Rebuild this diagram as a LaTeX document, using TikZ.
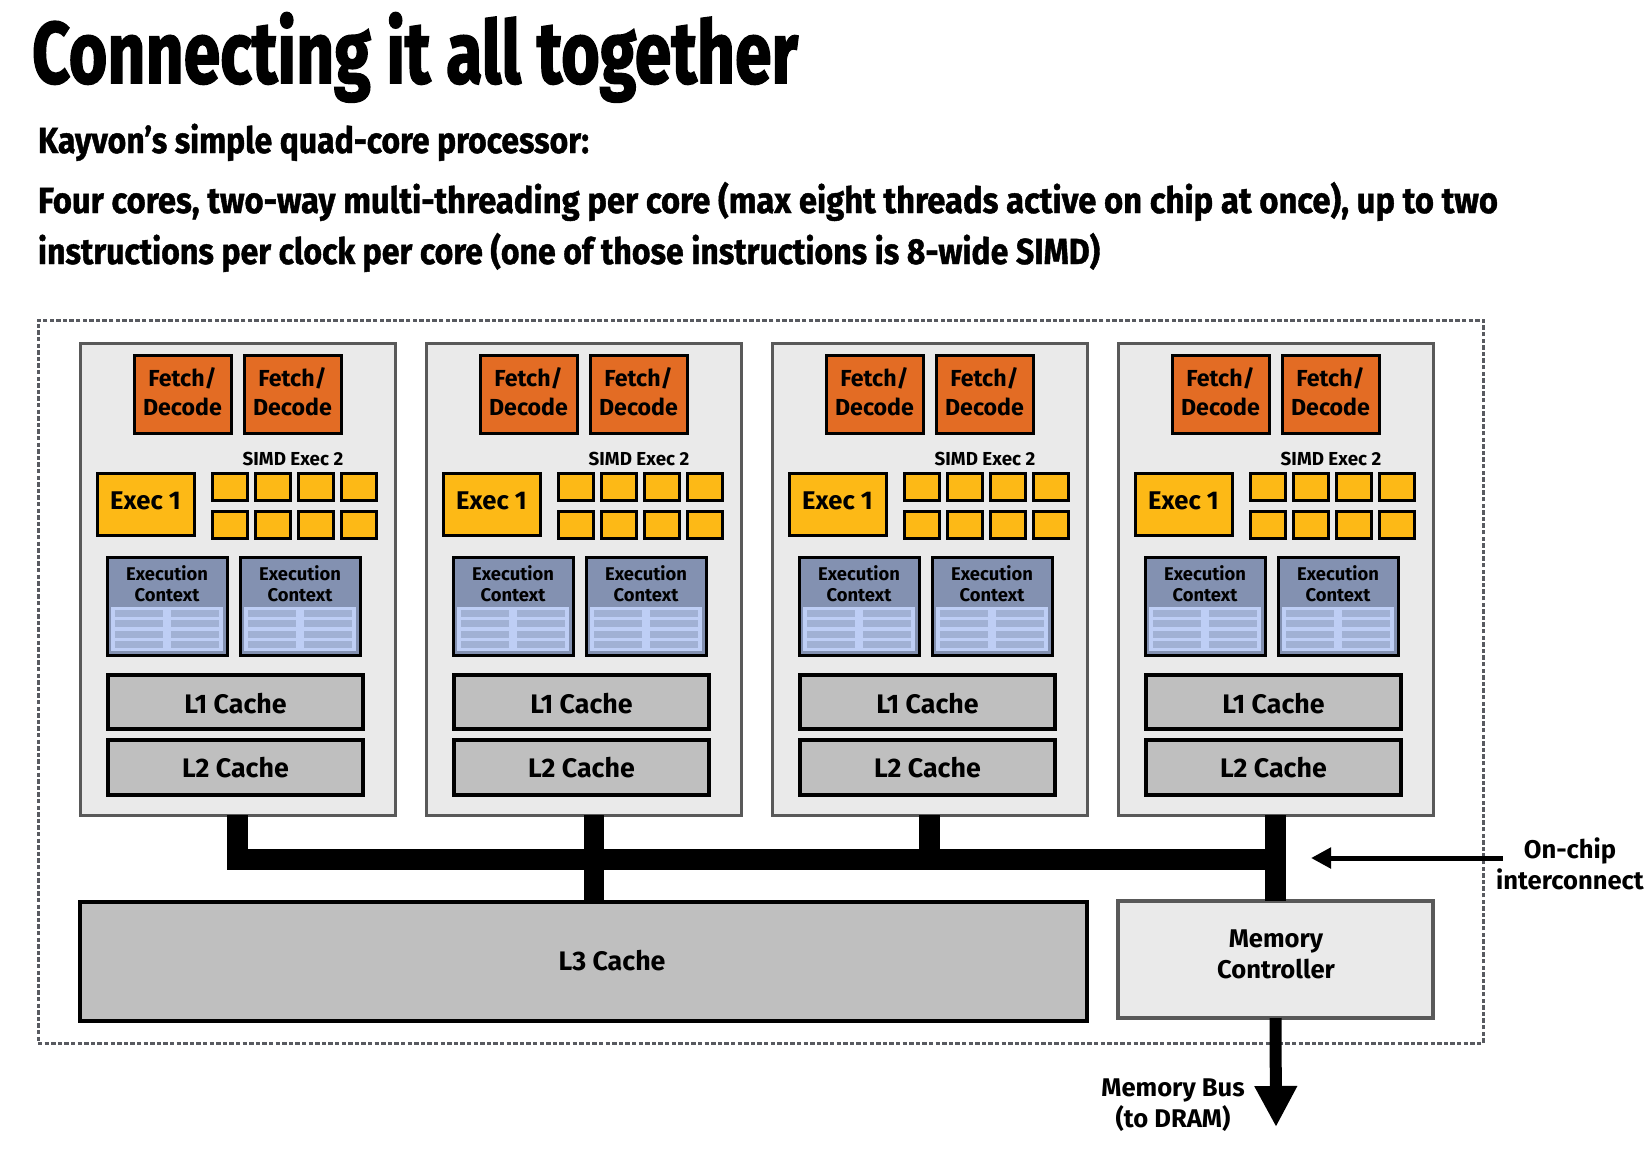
\documentclass[tikz,border=0pt]{standalone}
\usepackage{fontspec}
\usepackage{graphicx}
\setmainfont{Fira Sans}
\newfontfamily\headfont{Fira Sans}[BoldFeatures={FakeBold=1.2}]
\newfontfamily\bigheadfont{Fira Sans}[BoldFeatures={FakeBold=2}]
\usetikzlibrary{arrows.meta,shadows,fit}
\definecolor{fdorange}{RGB}{227,108,36}
\definecolor{exyellow}{RGB}{253,185,22}
\definecolor{ctxhead}{RGB}{131,145,177}
\definecolor{reglight}{RGB}{190,206,245}
\definecolor{regdark}{RGB}{161,177,212}
\definecolor{corebg}{RGB}{234,234,234}
\definecolor{coreborder}{RGB}{89,89,89}
\definecolor{cachegray}{RGB}{191,191,191}
\definecolor{dashgray}{RGB}{88,90,96}
\begin{document}
\begin{tikzpicture}[x=0.5pt,y=-0.5pt,
  every node/.style={inner sep=0pt,outer sep=0pt},
  dshadow/.style={drop shadow={shadow xshift=1pt,shadow yshift=-1pt,fill=black,opacity=0.3}},
  chipbox/.style={draw=dashgray,line width=1.5pt,dash pattern=on 2.2pt off 1.1pt},
  corebox/.style={draw=coreborder,fill=corebg,line width=1.5pt},
  fdbox/.style={draw=black,fill=fdorange,line width=1.5pt,dshadow},
  fdtxt/.style={align=center,font=\bfseries\fontsize{11.6}{14.5}\selectfont},
  execbox/.style={draw=black,fill=exyellow,line width=1.5pt,dshadow},
  exectxt/.style={font=\bfseries\fontsize{12.8}{15}\selectfont},
  simdsq/.style={draw=black,fill=exyellow,line width=1.5pt,dshadow},
  simdlbl/.style={font=\bfseries\fontsize{9.4}{10}\selectfont},
  ctxbox/.style={fill=ctxhead,dshadow},
  ctxlbl/.style={align=center,font=\bfseries\fontsize{9.2}{10.5}\selectfont},
  cachebox/.style={draw=black,fill=cachegray,line width=1.6pt},
  cachetxt/.style={font=\bfseries\fontsize{13.4}{15}\selectfont},
  bigcache/.style={draw=black,fill=cachegray,line width=2pt},
  mcbox/.style={draw=coreborder,fill=corebg,line width=2pt},
  lbl/.style={align=center,font=\bfseries\fontsize{12.8}{15.5}\selectfont},
  bus/.style={line width=10.25pt,black,line join=miter},
  headtxt/.style={anchor=base west}
]
\useasboundingbox (0,0) rectangle (1652,1153);
\fill[white] (0,0) rectangle (1652,1153);

% headings
\node[headtxt] (title) at (32,83) {\resizebox{383pt}{\height}{\bigheadfont\bfseries\fontsize{43.5}{50}\selectfont Connecting it all together}};
\node[headtxt] (subtitle) at (38,153) {\resizebox{275.5pt}{\height}{\headfont\bfseries\fontsize{18.1}{22}\selectfont Kayvon’s simple quad-core processor:}};
\node[headtxt] (descA) at (38,213) {\resizebox{730pt}{\height}{\headfont\bfseries\fontsize{18.1}{22}\selectfont Four cores, two-way multi-threading per core (max eight threads active on chip at once), up to two}};
\node[headtxt] (descB) at (38,264) {\resizebox{531pt}{\height}{\headfont\bfseries\fontsize{18.1}{22}\selectfont instructions per clock per core (one of those instructions is 8-wide SIMD)}};

% chip outline
\node[chipbox,fit={(38,320) (1483,1043)}] (chip) {};

% cores
\foreach \i/\cx in {1/80,2/426,3/772,4/1118}{
  \node[corebox,fit={(\cx,343) (\cx+315,815)}] (core\i) {};
  \node[fdbox,fit={(\cx+54,355) (\cx+151,433)}] (fdA\i) {};
  \node[fdtxt] (fdAt\i) at (\cx+102.5,392) {Fetch/\\Decode};
  \node[fdbox,fit={(\cx+164,355) (\cx+261,433)}] (fdB\i) {};
  \node[fdtxt] (fdBt\i) at (\cx+212.5,392) {Fetch/\\Decode};
  \node[simdlbl,anchor=base] (simd\i) at (\cx+213,465) {SIMD Exec 2};
  \node[execbox,fit={(\cx+17,473) (\cx+114,535)}] (exec\i) {};
  \node[exectxt] (exect\i) at (\cx+65.5,500.5) {Exec 1};
  \foreach \r/\ya/\yb in {1/473/500,2/511/538}{
    \foreach \c in {0,1,2,3}{
      \node[simdsq,fit={(\cx+132+43*\c,\ya) (\cx+167+43*\c,\yb)}] (sq\i-\r-\c) {};
    }
  }
  \foreach \k/\ox in {A/27,B/160}{
    \node[ctxbox,fit={(\cx+\ox,557) (\cx+\ox+120,655)}] (ctx\k\i) {};
    \fill[reglight] (\cx+\ox+4,607) rectangle (\cx+\ox+116,651);
    \foreach \ry in {610,620,631,641}{
      \fill[regdark] (\cx+\ox+8,\ry) rectangle (\cx+\ox+56,\ry+7);
      \fill[regdark] (\cx+\ox+64,\ry) rectangle (\cx+\ox+112,\ry+7);
    }
    \draw[black,line width=1.5pt] (ctx\k\i.north west) rectangle (ctx\k\i.south east);
    \node[ctxlbl] (ctxl\k\i) at (\cx+\ox+60,584) {Execution\\Context};
  }
  \node[cachebox,fit={(\cx+28,675) (\cx+283,729)}] (lA\i) {};
  \node[cachetxt] (lAt\i) at (\cx+155.5,703.5) {L1 Cache};
  \node[cachebox,fit={(\cx+28,740) (\cx+283,795)}] (lB\i) {};
  \node[cachetxt] (lBt\i) at (\cx+155.5,767.5) {L2 Cache};
}

% L3 and memory controller
\node[bigcache,fit={(80,902) (1087,1021)}] (l3) {};
\node[cachetxt] (l3lbl) at (612,961) {L3 Cache};
\node[mcbox,fit={(1118,901) (1433,1018)}] (mc) {};
\node[lbl] (mclbl) at (1276,954) {Memory\\Controller};

% interconnect
\coordinate (busy) at (0,859.5);
\draw[bus] (core1.south) |- (core4.south |- busy);
\draw[bus] ([xshift=5.25pt]core2.south) -- ([xshift=5.25pt]core2.south |- l3.north);
\draw[bus] (core3.south) -- (core3.south |- busy);
\draw[bus] (core4.south) -- (mc.north);

% memory bus
\coordinate (dram) at (1276,1127);
\draw[line width=6pt,-{Triangle[width=20pt,length=20.5pt]}] (mc.south) -- (dram);
\node[lbl] (mblbl) at (1173,1105) {Memory Bus\\(to DRAM)};

% on-chip interconnect label
\coordinate (ocs) at (1503,858);
\coordinate (oce) at (1311,858);
\draw[line width=2.5pt,-{Triangle[width=10pt,length=10pt]}] (ocs) -- (oce);
\node[lbl] (oclbl) at (1570,864) {On-chip\\interconnect};
\end{tikzpicture}
\end{document}
